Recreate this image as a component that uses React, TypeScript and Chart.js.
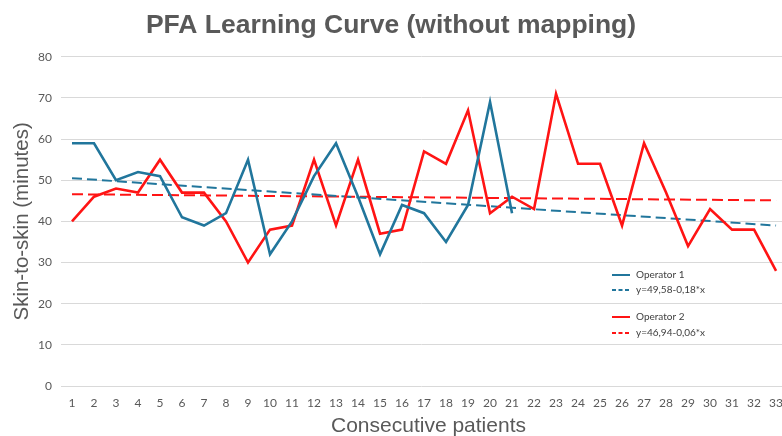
import React, { useEffect, useRef } from "react";
import { Chart, registerables } from "chart.js";

Chart.register(...registerables);

const patients = [1, 2, 3, 4, 5, 6, 7, 8, 9, 10, 11, 12, 13, 14, 15, 16, 17, 18, 19, 20, 21, 22, 23, 24, 25, 26, 27, 28, 29, 30, 31, 32, 33];
const operator1 = [59, 59, 50, 52, 51, 41, 39, 42, 55, 32, 40, 51, 59, 46, 32, 44, 42, 35, 44, 69, 42];
const operator2 = [40, 46, 48, 47, 55, 47, 47, 40, 30, 38, 39, 55, 39, 55, 37, 38, 57, 54, 67, 42, 46, 43, 71, 54, 54, 39, 59, 47, 34, 43, 38, 38, 28];
const trendX = [1, 33];
const trend1 = [50.5, 39.0];
const trend2 = [46.6, 45.1];
const legendLabels = ["Operator 1", "y=49,58-0,18*x", "Operator 2", "y=46,94-0,06*x"];
const yTicks = [0, 10, 20, 30, 40, 50, 60, 70, 80];
const xTitle = "Consecutive patients";

const BLUE = "#21769c";
const RED = "#ff1414";
const GRAY = "#595959";

const legendPlugin = {
  id: "customLegend",
  afterDraw(chart: any) {
    const { ctx, chartArea } = chart;
    const x0 = chartArea.right - 170;
    const rows = [
      { y: chartArea.bottom - 111, color: BLUE, dash: [] as number[] },
      { y: chartArea.bottom - 96, color: BLUE, dash: [4, 2.5] },
      { y: chartArea.bottom - 69, color: RED, dash: [] as number[] },
      { y: chartArea.bottom - 53, color: RED, dash: [4, 2.5] },
    ];
    ctx.save();
    rows.forEach((r, i) => {
      ctx.beginPath();
      ctx.setLineDash(r.dash);
      ctx.strokeStyle = r.color;
      ctx.lineWidth = 2;
      ctx.moveTo(x0, r.y);
      ctx.lineTo(x0 + 18, r.y);
      ctx.stroke();
      ctx.setLineDash([]);
      ctx.fillStyle = "#404040";
      ctx.font = "10px Lato";
      ctx.textBaseline = "middle";
      ctx.textAlign = "left";
      ctx.fillText(legendLabels[i], x0 + 24, r.y);
    });
    // x axis title
    ctx.fillStyle = GRAY;
    ctx.font = "21px 'Liberation Sans', Arial, sans-serif";
    ctx.textAlign = "center";
    ctx.textBaseline = "alphabetic";
    ctx.fillText(xTitle, (chartArea.left + chartArea.right) / 2 + 7, chartArea.bottom + 46);
    ctx.restore();
  },
};

export default function App() {
  const ref = useRef<HTMLCanvasElement | null>(null);

  useEffect(() => {
    document.body.style.margin = "0";
    const canvas = ref.current;
    if (!canvas) return;
    const chart = new Chart(canvas, {
      type: "line",
      data: {
        datasets: [
          {
            label: "Operator 1",
            data: operator1.map((v, i) => ({ x: patients[i], y: v })),
            borderColor: BLUE,
            borderWidth: 2.6,
            pointRadius: 0,
            tension: 0,
            fill: false,
          },
          {
            label: "Operator 2",
            data: operator2.map((v, i) => ({ x: patients[i], y: v })),
            borderColor: RED,
            borderWidth: 2.6,
            pointRadius: 0,
            tension: 0,
            fill: false,
          },
          {
            label: "y=49,58-0,18*x",
            data: trendX.map((x, i) => ({ x, y: trend1[i] })),
            borderColor: BLUE,
            borderWidth: 2,
            borderDash: [10, 5],
            pointRadius: 0,
            tension: 0,
            fill: false,
          },
          {
            label: "y=46,94-0,06*x",
            data: trendX.map((x, i) => ({ x, y: trend2[i] })),
            borderColor: RED,
            borderWidth: 2,
            borderDash: [11, 5],
            pointRadius: 0,
            tension: 0,
            fill: false,
          },
        ],
      },
      options: {
        animation: false,
        responsive: false,
        maintainAspectRatio: false,
        layout: { padding: 0 },
        plugins: {
          legend: { display: false },
          tooltip: { enabled: false },
          title: {
            display: true,
            text: "PFA Learning Curve (without mapping)",
            color: GRAY,
            font: { family: "'Liberation Sans', Arial, sans-serif", size: 26.5, weight: "bold", lineHeight: 1.2 },
            padding: { top: 10, bottom: 15 },
          },
        },
        scales: {
          x: {
            type: "linear",
            min: 0.5,
            max: 33.27,
            afterBuildTicks: (axis: any) => {
              axis.ticks = patients.map((v) => ({ value: v }));
            },
            afterFit: (scale: any) => {
              scale.height = 50;
              scale.paddingLeft = 0;
              scale.paddingRight = 0;
            },
            grid: { display: false, drawTicks: false },
            border: { display: false },
            ticks: {
              color: GRAY,
              font: { family: "Lato", size: 12 },
              padding: 10,
              maxRotation: 0,
              autoSkip: false,
            },
            title: { display: false },
          },
          y: {
            min: 0,
            max: 80,
            afterBuildTicks: (axis: any) => {
              axis.ticks = yTicks.map((v) => ({ value: v }));
            },
            afterFit: (scale: any) => {
              scale.width = 61;
            },
            grid: { color: "#d9d9d9", lineWidth: 1, drawTicks: false },
            border: { display: false },
            ticks: {
              color: GRAY,
              font: { family: "Lato", size: 12 },
              padding: 9,
            },
            title: {
              display: true,
              text: "Skin-to-skin (minutes)",
              color: GRAY,
              font: { family: "'Liberation Sans', Arial, sans-serif", size: 20.5, lineHeight: 1.2 },
              padding: { top: 10, bottom: 0 },
            },
          },
        },
      },
      plugins: [legendPlugin],
    } as any);
    return () => chart.destroy();
  }, []);

  return (
    <div style={{ width: 782, height: 436, position: "relative", overflow: "hidden", background: "#fff" }}>
      <canvas ref={ref} width={782} height={436} style={{ display: "block", width: 782, height: 436 }} />
    </div>
  );
}
